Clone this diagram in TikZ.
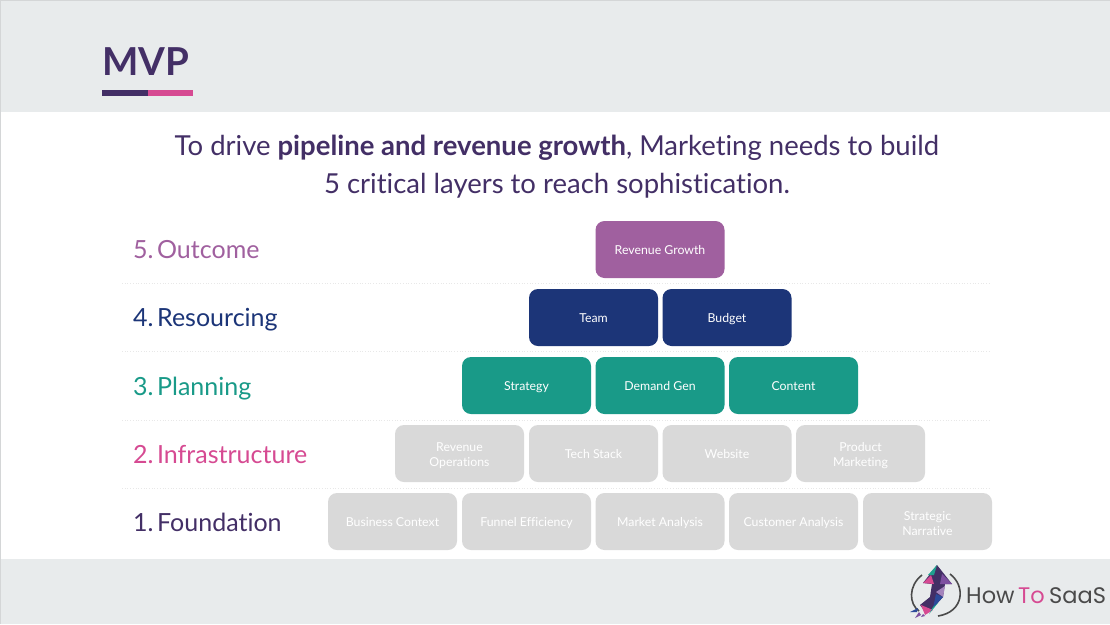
\documentclass[tikz,border=0pt]{standalone}
\usepackage{fontspec}
\setmainfont[Ligatures=NoCommon]{Lato}
\newfontfamily\logofont{Poppins}
\definecolor{bandgrey}{HTML}{E8EBEC}
\definecolor{edgegrey}{HTML}{D4D6D7}
\definecolor{deeppurple}{HTML}{432F66}
\definecolor{hotpink}{HTML}{D64A92}
\definecolor{mauve}{HTML}{A0609F}
\definecolor{navy}{HTML}{1C3578}
\definecolor{teal}{HTML}{199A88}
\definecolor{pale}{HTML}{D9D9D9}
\definecolor{logogrey}{HTML}{4A4A4A}
\definecolor{logoteal}{HTML}{1FA08E}
\definecolor{logoviolet}{HTML}{7D4FA0}
\definecolor{logoblue}{HTML}{2C4A9A}
\newcommand{\boxstrutA}{\rule{0pt}{12pt}}
\newcommand{\boxstrutB}{\rule[-2pt]{0pt}{2pt}}
\newcommand{\boxstrutC}{\rule{0pt}{14pt}}
\newcommand{\tightwords}{\spaceskip=1.4pt\relax}
\tikzset{
  x=1pt,y=-1pt,
  cellbox/.style={rounded corners=9pt,minimum width=129pt,minimum height=57pt,inner sep=0pt,align=center,font=\fontsize{12.3}{15}\selectfont,text=white,execute at begin node=\boxstrutA,execute at end node=\boxstrutB},
  toplayer/.style={cellbox,fill=mauve},
  navybox/.style={cellbox,fill=navy},
  tealbox/.style={cellbox,fill=teal},
  palebox/.style={cellbox,fill=pale},
  layerlabel/.style={anchor=base west,inner sep=0pt,font=\fontsize{25}{30}\selectfont,execute at begin node=\tightwords},
  divider/.style={draw=black!9,line width=0.7pt,dotted},
  logotextstyle/.style={anchor=base west,inner sep=0pt,font=\logofont\fontsize{22.5}{30}\selectfont},
}
\begin{document}
\begin{tikzpicture}
\useasboundingbox (0,0) rectangle (1110,624);
\fill[white] (0,0) rectangle (1110,624);
\fill[bandgrey] (0,0) rectangle (1110,112);
\fill[bandgrey] (0,559) rectangle (1110,624);
\draw[edgegrey,line width=1pt] (0,0.5) -- (1110,0.5);
\draw[edgegrey,line width=1pt] (0.5,0) -- (0.5,624);
% title
\node[anchor=base west,inner sep=0pt,text=deeppurple,font=\fontsize{38.5}{46}\selectfont\bfseries] (title) at (102,75) {MVP};
\fill[deeppurple] (102,90) rectangle (148,95.5);
\fill[hotpink] (148,90) rectangle (193,95.5);
% heading
\node[anchor=center,inner sep=0pt,align=center,text=deeppurple,font=\fontsize{27.5}{38}\selectfont] (head) at (557,167) {To drive \textbf{pipeline and revenue growth}, Marketing needs to build\\5 critical layers to reach sophistication.};
% dividers
\foreach \y/\n in {283/a,351/b,420/c,488/d}{
  \coordinate (l\n) at (122,\y); \coordinate (r\n) at (990,\y);
  \draw[divider] (l\n) -- (r\n);
}
% labels
\node[layerlabel,text=mauve] (l5) at (133,258) {5. Outcome};
\node[layerlabel,text=navy] (l4) at (133,326) {4. Resourcing};
\node[layerlabel,text=teal] (l3) at (133,395) {3. Planning};
\node[layerlabel,text=hotpink] (l2) at (133,463) {2. Infrastructure};
\node[layerlabel,text=deeppurple] (l1) at (133,531) {1. Foundation};
% boxes
\node[toplayer] (rev) at (660,249.5) {Revenue Growth};
\node[navybox] (team) at (593.5,317.5) {Team};
\node[navybox] (budget) at (727,317.5) {Budget};
\node[tealbox] (strat) at (526.5,385.5) {Strategy};
\node[tealbox] (dem) at (660,385.5) {Demand Gen};
\node[tealbox] (cont) at (793.5,385.5) {Content};
\node[palebox] (rops) at (459.5,453.5) {\boxstrutC Revenue\\Operations};
\node[palebox] (tech) at (593.5,453.5) {Tech Stack};
\node[palebox] (web) at (727,453.5) {Website};
\node[palebox] (prod) at (860.5,453.5) {\boxstrutC Product\\Marketing};
\node[palebox] (biz) at (392.5,521.5) {Business Context};
\node[palebox] (fun) at (526.5,521.5) {Funnel Efficiency};
\node[palebox] (mkt) at (660,521.5) {Market Analysis};
\node[palebox] (cust) at (793.5,521.5) {Customer Analysis};
\node[palebox] (narr) at (927.5,521.5) {\boxstrutC Strategic\\Narrative};
% logo ring
\draw[logogrey,line width=1.6pt] (922,575) .. controls (908,586) and (909,604) .. (919,611);
\draw[logogrey,line width=1.6pt] (950,574) .. controls (966,586) and (964,612) .. (938,616);
% logo arrow
\fill[deeppurple] (937,565) -- (952,584) -- (945,584) -- (943,597) -- (933,608) -- (926,613) -- (920,605) -- (930,597) -- (932,584) -- (923,583) -- cycle;
\fill[logoteal] (937,565) -- (928,575) -- (934,575) -- cycle;
\fill[hotpink] (923,583) -- (931,575) -- (934,584) -- cycle;
\fill[logoviolet] (942,574) -- (952,584) -- (940,584) -- cycle;
\fill[logoviolet!70] (936,592) -- (945,586) -- (943,597) -- cycle;
\fill[logoblue] (936,594) -- (943,597) -- (933,608) -- cycle;
\fill[hotpink] (921,605) -- (933,610) -- (925,615) -- cycle;
\fill[logoteal] (933,607) -- (938,603) -- (929,614) -- cycle;
\fill[logoblue] (910,612) -- (918,608) -- (917,612) -- cycle;
\fill[logoviolet] (915,618) -- (919,612) -- (921,615) -- cycle;
\fill[logoviolet] (921,617) -- (923,614) -- (925,616) -- cycle;
% logo words
\node[logotextstyle,text=logogrey] (lhow) at (966,603) {How};
\node[logotextstyle,text=hotpink] (lto) at (1018,603) {To};
\node[logotextstyle,text=logogrey] (lsaas) at (1049,603) {SaaS};
\end{tikzpicture}
\end{document}
